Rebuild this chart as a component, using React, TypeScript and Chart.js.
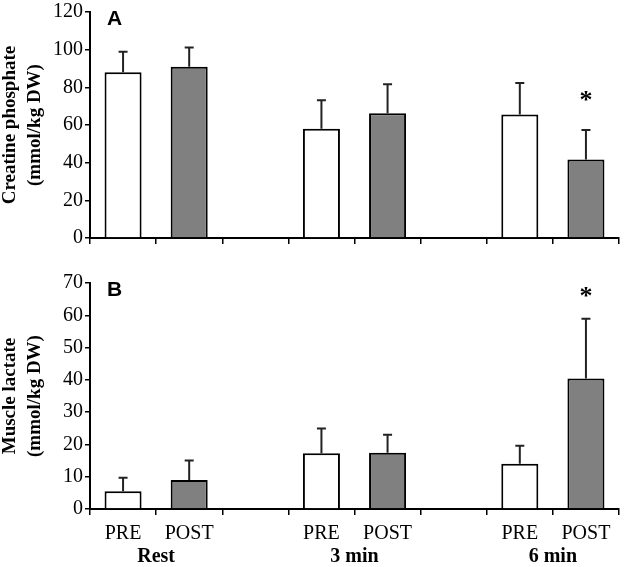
import React, { useEffect, useRef } from 'react';
import { Chart, registerables } from 'chart.js';
Chart.register(...registerables);

// ---- data ----
const groups = ['Rest', '3 min', '6 min'];
const conditions = ['PRE', 'POST'];

const cpPre = [88, 58, 65.6];
const cpPreSD = [10.9, 15.1, 16.7];
const cpPost = [90.9, 66.3, 41.7];
const cpPostSD = [10.3, 15.4, 15.7];
const cpSigPost = [false, false, true];

const laPre = [5.5, 17.3, 14];
const laPreSD = [4.2, 7.6, 5.6];
const laPost = [9.0, 17.4, 40.4];
const laPostSD = [6.0, 5.6, 18.5];
const laSigPost = [false, false, true];

const cpTicks = { min: 0, max: 120, step: 20 };
const laTicks = { min: 0, max: 70, step: 10 };

const preColor = '#ffffff';
const postColor = '#808080';

// ---- build slot arrays (PRE, POST, gap, ...) ----
function buildSlots(pre: number[], post: number[], preSD: number[], postSD: number[], sig: boolean[]) {
  const labels: string[] = [];
  const values: (number | null)[] = [];
  const errs: (number | null)[] = [];
  const colors: string[] = [];
  const marks: boolean[] = [];
  const centers: number[] = [];
  groups.forEach((g, i) => {
    centers.push(labels.length + 0.5);
    labels.push(conditions[0]); values.push(pre[i]); errs.push(preSD[i]); colors.push(preColor); marks.push(false);
    labels.push(conditions[1]); values.push(post[i]); errs.push(postSD[i]); colors.push(postColor); marks.push(sig[i]);
    if (i < groups.length - 1) {
      labels.push(''); values.push(null); errs.push(null); colors.push('rgba(0,0,0,0)'); marks.push(false);
    }
  });
  return { labels, values, errs, colors, marks, centers };
}

const SERIF = '"Liberation Serif", "Times New Roman", Times, serif';
const SANS = '"Liberation Sans", Arial, Helvetica, sans-serif';

const errorBarPlugin = {
  id: 'errorBars',
  afterDatasetsDraw(chart: any, _args: any, opts: any) {
    const { ctx, scales, chartArea } = chart;
    const xs = scales.x;
    const ys = scales.y;
    const data = chart.data.datasets[0].data as (number | null)[];
    ctx.save();
    ctx.strokeStyle = '#222';
    ctx.lineWidth = 2;
    data.forEach((v, i) => {
      if (v == null) return;
      const e = opts.errors[i] as number;
      const x = xs.getPixelForValue(i);
      const y0 = ys.getPixelForValue(v);
      const y1 = ys.getPixelForValue(v + e);
      ctx.beginPath();
      ctx.moveTo(x, y0);
      ctx.lineTo(x, y1);
      ctx.moveTo(x - 4.5, y1);
      ctx.lineTo(x + 4.5, y1);
      ctx.stroke();
      if (opts.marks[i]) {
        ctx.fillStyle = '#000';
        ctx.font = 'bold 26px ' + SERIF;
        ctx.textAlign = 'center';
        ctx.textBaseline = 'alphabetic';
        ctx.fillText('*', x, y1 - opts.markGap);
      }
    });
    ctx.fillStyle = '#000';
    ctx.font = 'bold 21px ' + SANS;
    ctx.textAlign = 'left';
    ctx.textBaseline = 'alphabetic';
    ctx.fillText(opts.letter, chartArea.left + 17, chartArea.top + 13);
    ctx.restore();
  },
};

function makeConfig(opts: {
  slots: ReturnType<typeof buildSlots>;
  ticks: { min: number; max: number; step: number };
  title: string[];
  letter: string;
  markGap: number;
  showLabels: boolean;
  padTop: number;
}): any {
  const { slots, ticks } = opts;
  const scales: any = {
    x: {
      type: 'category',
      offset: true,
      grid: { offset: true, drawOnChartArea: false, tickLength: 6, color: '#000', lineWidth: 1.5 },
      border: { color: '#000', width: 2 },
      ticks: {
        display: opts.showLabels,
        color: '#000',
        font: { family: SERIF, size: 20, lineHeight: 1.2 },
        padding: 7,
        autoSkip: false,
        maxRotation: 0,
      },
      afterFit: (s: any) => { s.height = opts.showLabels ? 30 : 22; },
    },
    y: {
      min: ticks.min,
      max: ticks.max,
      ticks: {
        stepSize: ticks.step,
        color: '#000',
        font: { family: SERIF, size: 20, lineHeight: 1.0 },
        padding: 2,
      },
      grid: { drawOnChartArea: false, tickLength: 5, color: '#000', lineWidth: 1.5 },
      border: { color: '#000', width: 2 },
      title: {
        display: true,
        text: opts.title,
        color: '#000',
        font: { family: SERIF, size: 19, weight: 'bold', lineHeight: 1.3 },
        padding: { top: -2, bottom: 0 },
      },
      afterFit: (s: any) => { s.width = 90; },
    },
  };
  if (opts.showLabels) {
    scales.x2 = {
      type: 'linear',
      axis: 'x',
      position: 'bottom',
      weight: 1,
      offset: false,
      min: -0.5,
      max: slots.labels.length - 0.5,
      grid: { display: false, offset: false, drawTicks: false, tickLength: 0 },
      border: { display: false },
      afterBuildTicks: (s: any) => { s.ticks = slots.centers.map((v) => ({ value: v })); },
      ticks: {
        color: '#000',
        font: { family: SERIF, size: 20, weight: 'bold', lineHeight: 1.2 },
        padding: 6,
        autoSkip: false,
        maxRotation: 0,
        callback: (val: number) => groups[slots.centers.indexOf(val)] ?? '',
      },
      afterFit: (s: any) => { s.height = 28; },
    };
  }
  return {
    type: 'bar',
    data: {
      labels: slots.labels,
      datasets: [
        {
          data: slots.values,
          backgroundColor: slots.colors,
          borderColor: '#000',
          borderWidth: 2,
          barPercentage: 0.56,
          categoryPercentage: 1,
          xAxisID: 'x',
          yAxisID: 'y',
        },
      ],
    },
    options: {
      responsive: false,
      animation: false,
      layout: { padding: { top: opts.padTop, right: 6, left: 0, bottom: 0 } },
      plugins: {
        legend: { display: false },
        tooltip: { enabled: false },
        errorBars: { errors: slots.errs, marks: slots.marks, letter: opts.letter, markGap: opts.markGap },
      },
      scales,
    },
    plugins: [errorBarPlugin],
  };
}

export default function App() {
  const topRef = useRef<HTMLCanvasElement>(null);
  const botRef = useRef<HTMLCanvasElement>(null);

  useEffect(() => {
    const cpSlots = buildSlots(cpPre, cpPost, cpPreSD, cpPostSD, cpSigPost);
    const laSlots = buildSlots(laPre, laPost, laPreSD, laPostSD, laSigPost);
    const c1 = new Chart(topRef.current!, makeConfig({
      slots: cpSlots, ticks: cpTicks, title: ['Creatine phosphate', '(mmol/kg DW)'],
      letter: 'A', markGap: 22, showLabels: false, padTop: 10,
    }));
    const c2 = new Chart(botRef.current!, makeConfig({
      slots: laSlots, ticks: laTicks, title: ['Muscle lactate', '(mmol/kg DW)'],
      letter: 'B', markGap: 15, showLabels: true, padTop: 23,
    }));
    return () => { c1.destroy(); c2.destroy(); };
  }, []);

  return (
    <div style={{ position: 'absolute', left: 0, top: 0, width: 625, height: 567, background: '#fff' }}>
      <canvas ref={topRef} width={625} height={260} style={{ position: 'absolute', left: 0, top: 0, display: 'block' }} />
      <canvas ref={botRef} width={625} height={307} style={{ position: 'absolute', left: 0, top: 260, display: 'block' }} />
    </div>
  );
}
